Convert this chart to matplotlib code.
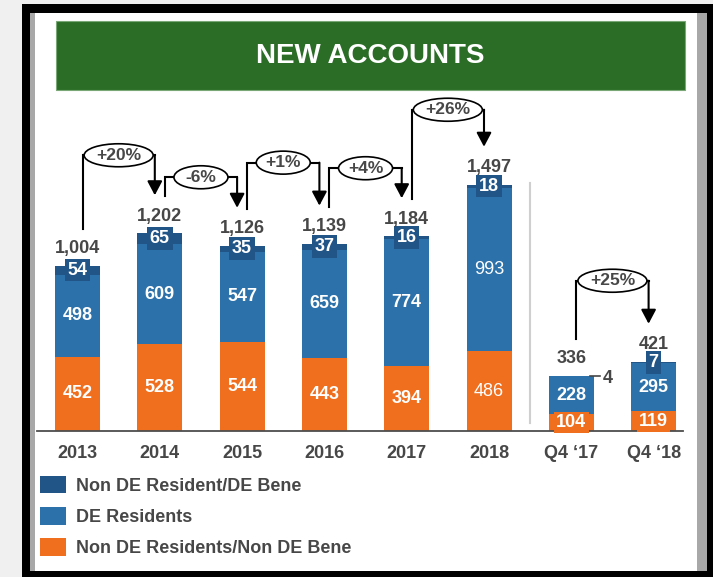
import matplotlib
matplotlib.use('Agg')
import matplotlib.pyplot as plt
from matplotlib.patches import Rectangle, Ellipse
import numpy as np

plt.rcParams['font.family'] = ['Liberation Sans', 'DejaVu Sans']

# ---- data ----
categories = ['2013', '2014', '2015', '2016', '2017', '2018', 'Q4 \u201817', 'Q4 \u201818']
non_de_res_non_de_bene = [452, 528, 544, 443, 394, 486, 104, 119]   # orange (bottom)
de_residents = [498, 609, 547, 659, 774, 993, 228, 295]             # blue (middle)
non_de_res_de_bene = [54, 65, 35, 37, 16, 18, 4, 7]                 # dark blue (top)
series_names = ['Non DE Resident/DE Bene', 'DE Residents', 'Non DE Residents/Non DE Bene']
growth_pairs = [(0, 1), (1, 2), (2, 3), (3, 4), (4, 5), (6, 7)]

# ---- style / layout ----
DARK = '#215487'
BLUE = '#2c71a9'
ORANGE = '#ef6f1f'
GREEN = '#2b6d27'
GREY_TXT = '#474747'

W, H = 713, 577
AX_L, AX_R, AX_T, AX_B = 37, 683, 95, 431       # axes box in pixels
X0, DX = 77.5, 82.3                              # first bar centre, bar spacing (px)
PX_PER_UNIT = 0.1645                             # vertical px per account
bracket_rise = [78, 56, 81, 68, 75, 81]          # px above taller bar for each bracket


def fx(px):
    return px / W


def fy(py):
    return 1 - py / H


def ux(px):  # px -> data x units
    return px / DX


def uy(px):  # px -> data y units
    return px / PX_PER_UNIT


fig = plt.figure(figsize=(W / 100, H / 100), dpi=100)
fig.patch.set_facecolor('#f0f0f0')

# frame
fig.add_artist(Rectangle((fx(22), fy(577)), fx(713 - 22), (577 - 4) / H,
                         transform=fig.transFigure, facecolor='black', edgecolor='none', zorder=0))
fig.add_artist(Rectangle((fx(30), fy(571)), fx(707 - 30), (571 - 13) / H,
                         transform=fig.transFigure, facecolor='#a8a8a8', edgecolor='none', zorder=0))
fig.add_artist(Rectangle((fx(35), fy(571)), fx(697 - 35), (571 - 13) / H,
                         transform=fig.transFigure, facecolor='white', edgecolor='none', zorder=0))

# title banner
fig.add_artist(Rectangle((fx(56), fy(90)), fx(685 - 56), (90 - 21) / H,
                         transform=fig.transFigure, facecolor=GREEN, edgecolor='#7aa776',
                         linewidth=0.8, zorder=1))
fig.text(fx((56 + 685) / 2), fy(56), 'NEW ACCOUNTS', color='white', fontsize=20,
         fontweight='bold', ha='center', va='center', zorder=2)

ax = fig.add_axes([fx(AX_L), fy(AX_B), fx(AX_R - AX_L), (AX_B - AX_T) / H])
ax.set_facecolor('none')
ax.set_xlim((AX_L - X0) / DX, (AX_R - X0) / DX)
ax.set_ylim(0, uy(AX_B - AX_T))

x = np.arange(len(categories))
orange = np.array(non_de_res_non_de_bene)
blue = np.array(de_residents)
dark = np.array(non_de_res_de_bene)
totals = orange + blue + dark
width = ux(45)

b_or = ax.bar(x, orange, width, color=ORANGE, zorder=2)
b_bl = ax.bar(x, blue, width, bottom=orange, color=BLUE, zorder=2)
b_dk = ax.bar(x, dark, width, bottom=orange + blue, color=DARK, zorder=2)

for i, cat in enumerate(categories):
    wt = 'normal' if cat == '2018' else 'bold'
    # orange segment
    ax.text(x[i], orange[i] / 2, f'{orange[i]}', color='white', fontsize=13, fontweight=wt,
            ha='center', va='center', zorder=5,
            bbox=dict(boxstyle='square,pad=0.12', facecolor=ORANGE, edgecolor='none'))
    # blue segment
    ax.text(x[i], orange[i] + blue[i] / 2, f'{blue[i]}', color='white', fontsize=13,
            fontweight=wt, ha='center', va='center', zorder=5)
    # dark segment
    top = totals[i]
    if cat == 'Q4 \u201817':
        ax.plot([x[i] + width / 2 - ux(4), x[i] + width / 2 + ux(6)], [top, top],
                color=GREY_TXT, lw=1.2, zorder=5)
        ax.text(x[i] + width / 2 + ux(14), top - uy(3), f'{dark[i]}', color=GREY_TXT,
                fontsize=13, fontweight='bold', ha='center', va='center', zorder=5)
    else:
        ax.text(x[i], orange[i] + blue[i] + dark[i] / 2, f'{dark[i]}', color='white',
                fontsize=13, fontweight='bold', ha='center', va='center', zorder=5,
                bbox=dict(boxstyle='square,pad=0.15', facecolor=DARK, edgecolor='none'))
    # total
    ax.annotate(f'{top:,}', (x[i], top), xytext=(0, 17), textcoords='offset pixels',
                color=GREY_TXT, fontsize=13, fontweight='bold', ha='center', va='center',
                zorder=5)

# growth brackets
for k, (a, b) in enumerate(growth_pairs):
    pct = round((totals[b] / totals[a] - 1) * 100)
    label = f'{pct:+d}%'
    xl = x[a] + ux(5)
    xr = x[b] - ux(5)
    y0 = totals[a] + uy(37)
    tip = totals[b] + uy(38)
    lvl = max(totals[a], totals[b]) + uy(bracket_rise[k])
    ax.plot([xl, xl, xr], [y0, lvl, lvl], color='black', lw=1.5, zorder=3,
            solid_joinstyle='miter', clip_on=False)
    ax.annotate('', xy=(xr, tip), xytext=(xr, lvl),
                arrowprops=dict(arrowstyle='-|>,head_length=0.85,head_width=0.45',
                                mutation_scale=10, color='black', lw=1.5,
                                shrinkA=0, shrinkB=0), zorder=3)
    ew = 15 * len(label) + 9
    ax.add_patch(Ellipse(((xl + xr) / 2, lvl), ux(ew), uy(23), facecolor='white',
                         edgecolor='black', lw=1.2, zorder=4, clip_on=False))
    ax.text((xl + xr) / 2, lvl, label, color=GREY_TXT, fontsize=12.5, fontweight='bold',
            ha='center', va='center', zorder=5)

# separator between annual and quarterly
ax.axvline(5.5, ymin=8 / (AX_B - AX_T), ymax=(AX_B - 183) / (AX_B - AX_T),
           color='#cfcfcf', lw=1.5, zorder=1)

for s in ['top', 'right', 'left']:
    ax.spines[s].set_visible(False)
ax.spines['bottom'].set_color('#4d4d4d')
ax.spines['bottom'].set_linewidth(1.3)
ax.set_yticks([])
ax.set_xticks(x)
ax.set_xticklabels(categories, fontsize=13, fontweight='bold', color=GREY_TXT)
ax.tick_params(axis='x', length=0, pad=10)

fig.legend([b_dk, b_bl, b_or], series_names, loc='upper left',
           bbox_to_anchor=(fx(40), fy(476)), frameon=False, prop=dict(size=13, weight='bold'),
           labelcolor=GREY_TXT, handlelength=1.43, handleheight=1.11, handletextpad=0.55,
           labelspacing=0.68, borderpad=0, borderaxespad=0)

fig.savefig('out.png', dpi=100, facecolor=fig.get_facecolor())
